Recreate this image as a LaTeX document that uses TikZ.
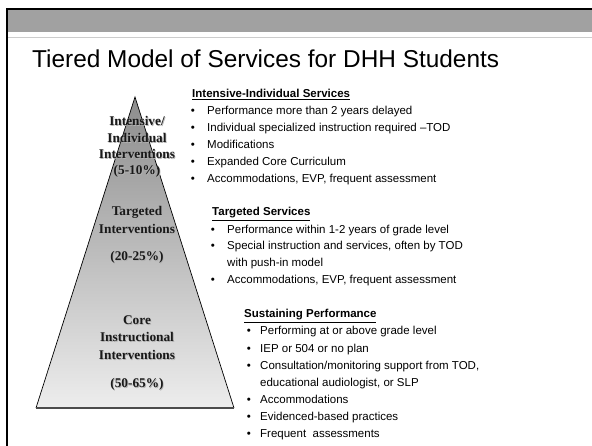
\documentclass[tikz,border=0pt]{standalone}
\usepackage{fontspec}
\setmainfont{Liberation Sans}
\newfontfamily\serifb{Liberation Serif}
\begin{document}
\begin{tikzpicture}[x=1pt,y=-1pt,
  pyrtext/.style={font=\serifb\bfseries\fontsize{13.3}{16}\selectfont, text=black!90, inner sep=0pt, align=center, text height=9pt, text depth=3pt},
  pyrshadow/.style={pyrtext, text=black!30},
  head/.style={font=\bfseries\fontsize{11.5}{13}\selectfont, anchor=west, inner sep=0pt, text height=8.3pt, text depth=2.5pt},
  item/.style={font=\fontsize{11.5}{13}\selectfont, anchor=west, inner sep=0pt, text height=8.3pt, text depth=2.5pt},
  bul/.style={font=\fontsize{11.5}{13}\selectfont, inner sep=0pt, text height=8.3pt, text depth=2.5pt}]
\useasboundingbox (0,0) rectangle (592,446);
\fill[white] (0,0) rectangle (592,446);
% frame
\fill[black!37] (8,10) rectangle (592,32);
\draw[black!20, line width=0.8pt] (8,37) -- (592,37);
\draw[black, line width=2pt] (6,9) -- (592,9);
\draw[black, line width=2pt] (7,9) -- (7,446);
% title
\node[font=\fontsize{24.4}{28}\selectfont, anchor=base west, inner sep=0pt] (title) at (32,68) {Tiered Model of Services for DHH Students};
% pyramid
\coordinate (apex) at (135,97);
\coordinate (bl) at (36,408);
\coordinate (br) at (234,408);
\shade[top color=black!45, bottom color=black!7] (apex) -- (br) -- (bl) -- cycle;
\draw[black, line width=0.7pt] (bl) -- (apex) -- (br);
\draw[black!70, line width=1.4pt] (bl) -- (br);
% pyramid texts
\foreach \n/\y/\t in {p1/123/{Intensive/}, p2/140/Individual, p3/156/Interventions, p4/172/(5-10\%),
  p5/213/Targeted, p6/231/Interventions, p7/258/(20-25\%),
  p8/322/Core, p9/339/Instructional, p10/357/Interventions, p11/385/(50-65\%)}{
  \node[pyrshadow] (\n s) at (137.8,\y+0.8) {\t};
  \node[pyrtext] (\n) at (137,\y) {\t};
}
% section 1
\node[head] (h1) at (192,95) {\underline{Intensive-Individual Services}};
\foreach \i/\y/\t in {1/112/Performance more than 2 years delayed,
  2/129/Individual specialized instruction required –TOD,
  3/146/Modifications,
  4/163/Expanded Core Curriculum,
  5/180/{Accommodations, EVP, frequent assessment}}{
  \node[bul] (b1-\i) at (193,\y) {•};
  \node[item] (t1-\i) at (207,\y) {\t};
}
% section 2
\node[head] (h2) at (212,213) {\underline{Targeted Services}};
\foreach \i/\y/\t in {1/231/Performance within 1-2 years of grade level,
  2/247/{Special instruction and services, often by TOD},
  4/281/{Accommodations, EVP, frequent assessment}}{
  \node[bul] (b2-\i) at (213,\y) {•};
  \node[item] (t2-\i) at (227,\y) {\t};
}
\node[item] (t2-3) at (227,264) {with push-in model};
% section 3
\node[head] (h3) at (244,315) {\underline{Sustaining Performance}};
\foreach \i/\y/\t in {1/332/Performing at or above grade level,
  2/350/IEP or 504 or no plan,
  3/367/{Consultation/monitoring support from TOD,},
  5/401/Accommodations,
  6/418/Evidenced-based practices,
  7/435/Frequent\ \ assessments}{
  \node[bul] (b3-\i) at (249,\y) {•};
  \node[item] (t3-\i) at (260,\y) {\t};
}
\node[item] (t3-4) at (260,384) {educational audiologist, or SLP};
\end{tikzpicture}
\end{document}
